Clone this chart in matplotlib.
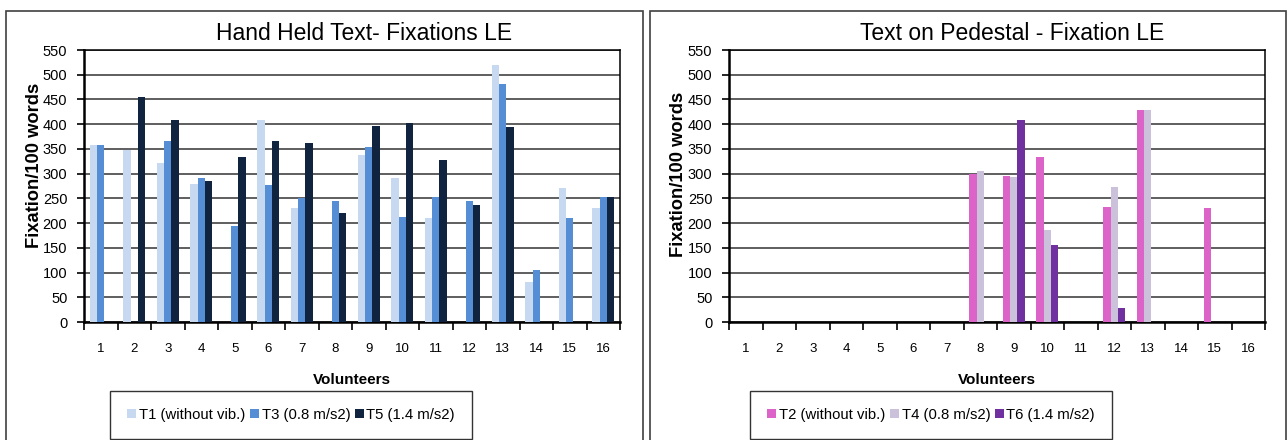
import numpy as np
import matplotlib
matplotlib.use("Agg")
import matplotlib.pyplot as plt
from matplotlib.patches import Rectangle

plt.rcParams['font.family'] = ['Liberation Sans', 'DejaVu Sans']

volunteers = np.arange(1, 17)
tick_labels = [str(v) for v in volunteers]

# Hand held text (T1, T3, T5)
t1 = [358, 348, 321, 279, 0, 408, 231, 0, 338, 291, 210, 0, 520, 81, 271, 231]
t3 = [358, 0, 366, 291, 194, 277, 251, 245, 354, 212, 252, 245, 481, 105, 210, 252]
t5 = [0, 455, 408, 285, 334, 366, 362, 220, 396, 402, 328, 237, 394, 0, 0, 252]

# Text on pedestal (T2, T4, T6)
t2 = [0, 0, 0, 0, 0, 0, 0, 300, 295, 334, 0, 233, 429, 0, 231, 0]
t4 = [0, 0, 0, 0, 0, 0, 0, 305, 293, 186, 0, 273, 429, 0, 0, 0]
t6 = [0, 0, 0, 0, 0, 0, 0, 0, 408, 156, 0, 28, 0, 0, 0, 0]

left_labels = ['T1 (without vib.)', 'T3 (0.8 m/s2)', 'T5 (1.4 m/s2)']
right_labels = ['T2 (without vib.)', 'T4 (0.8 m/s2)', 'T6 (1.4 m/s2)']
left_colors = ['#c6d9f0', '#558ed5', '#10243f']
right_colors = ['#dc64c8', '#ccc1da', '#7030a0']

W, H = 1288, 440
fig = plt.figure(figsize=(W / 100, H / 100), dpi=100)

# panel frames
for x0, x1 in [(6, 643), (650, 1286)]:
    fig.patches.append(Rectangle((x0 / W, -0.1), (x1 - x0) / W, 1.1 - 11 / H,
                                 transform=fig.transFigure, fill=False,
                                 edgecolor='#404040', linewidth=1.2))


def draw_panel(ax_left, series, labels, colors, title, title_x, legend_x):
    ax = fig.add_axes([ax_left / W, 1 - 322 / H, 536 / W, 272 / H])
    bw = 0.222
    handles = []
    for i, (vals, col) in enumerate(zip(series, colors)):
        b = ax.bar(volunteers + (i - 1) * bw, vals, width=bw, color=col,
                   edgecolor='none', zorder=3)
        handles.append(b)
    ax.set_xlim(0.5, 16.5)
    ax.set_ylim(0, 550)
    ax.set_yticks(np.arange(0, 551, 50))
    ax.set_xticks(volunteers)
    ax.set_xticklabels(tick_labels, fontsize=9.5)
    ax.set_xticks(np.arange(0.5, 16.6, 1), minor=True)
    ax.tick_params(axis='x', which='major', length=0, pad=15)
    ax.tick_params(axis='x', which='minor', length=6, width=1.2, direction='out')
    ax.tick_params(axis='y', length=5, width=1.2, labelsize=10.5, pad=7)
    ax.grid(axis='y', color='#333333', linewidth=1.1, zorder=1)
    for s in ['left', 'bottom']:
        ax.spines[s].set_linewidth(1.8)
    for s in ['top', 'right']:
        ax.spines[s].set_linewidth(1.1)
    ax.set_xlabel('Volunteers', fontsize=11, fontweight='bold', labelpad=13)
    ax.set_ylabel('Fixation/100 words', fontsize=13.2, fontweight='bold')
    fig.text(title_x / W, 1 - 33 / H, title, fontsize=16.5, ha='center', va='center')
    leg = fig.legend(handles, labels, loc='center', ncol=3,
                     bbox_to_anchor=(legend_x / W, 1 - 415 / H),
                     fontsize=10.7, frameon=True, fancybox=False,
                     edgecolor='black', handlelength=0.6, handleheight=0.6,
                     handletextpad=0.2, columnspacing=0.3, borderpad=1.15)
    leg.get_frame().set_linewidth(1.0)
    return ax


ax1 = draw_panel(84, [t1, t3, t5], left_labels, left_colors,
                 'Hand Held Text- Fixations LE', 364, 291)
ax1.yaxis.set_label_coords(-0.076, 0.577)
ax2 = draw_panel(729, [t2, t4, t6], right_labels, right_colors,
                 'Text on Pedestal - Fixation LE', 1012, 931)
ax2.yaxis.set_label_coords(-0.078, 0.544)

fig.savefig('out.png', dpi=100)
